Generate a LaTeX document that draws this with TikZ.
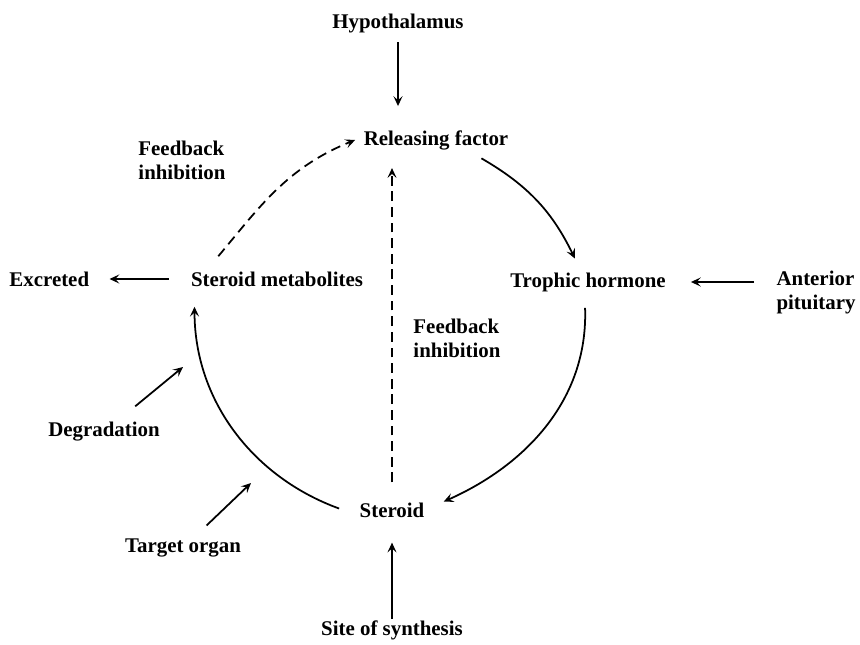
\documentclass[tikz,border=0pt]{standalone}
\usepackage{fontspec}
\setmainfont{Liberation Serif}
\usetikzlibrary{positioning,arrows.meta}

\begin{document}
\begin{tikzpicture}[x=0.018cm,y=0.018cm,node distance=2cm,on grid,
    >={Stealth[length=5pt,width=4.6pt,inset=2pt]},line width=0.9pt,
    every node/.style={inner sep=4pt,font=\fontsize{10.7}{12.3}\selectfont\bfseries},
    fb/.style={dash pattern=on 5pt off 3pt}]
\useasboundingbox (0,0) rectangle (860,644);

\node (hyp) at (398,620) {Hypothalamus};
\node (rf)  at (436,504) {Releasing factor};
\node (th)  at (588,362) {Trophic hormone};
\node[align=left] (ap) at (816,351) {Anterior\\pituitary};
\node (sm)  at (277,365) {Steroid metabolites};
\node (exc) [left=4.1cm of sm] {Excreted};
\node (st)  at (392,134) {Steroid};
\node (sos) [below=2.17cm of st] {Site of synthesis};
\node (deg) at (104,212) {Degradation};
\node (tgt) at (183,96) {Target organ};
\node[align=left] (fbl) at (182,484) {Feedback\\inhibition};
\node[align=left] (fbm) at (457,306) {Feedback\\inhibition};

\coordinate (degend) at (183,277);
\coordinate (tgtend) at (251,161);

\path[->]
(hyp) edge [shorten >=8pt] (hyp |- rf.north)

(rf.-22) edge [out=-30, in=116, shorten >=3pt] (th.120)
(th.-100) edge [out=-88, in=24, shorten <=4pt, shorten >=6pt] (st.5)
(st.-176) edge [out=160, in=-90, shorten <=6.5pt, shorten >=6pt] (sm.-169)

(sm.166) edge [fb, out=50, in=-158, shorten <=4.5pt] (rf.west)
(st) edge [fb, shorten <=6pt, shorten >=5pt] (st |- rf.south)

(sm) edge [shorten <=7pt, shorten >=6pt] (exc)
(ap.west |- th) edge [shorten <=7pt, shorten >=8.5pt] (th)
(sos) edge [shorten <=-3.5pt, shorten >=8.5pt] (st)

(deg) edge [shorten <=6pt] (degend)
(tgt) edge [shorten <=3.5pt] (tgtend)
; %end path
\end{tikzpicture}
\end{document}
